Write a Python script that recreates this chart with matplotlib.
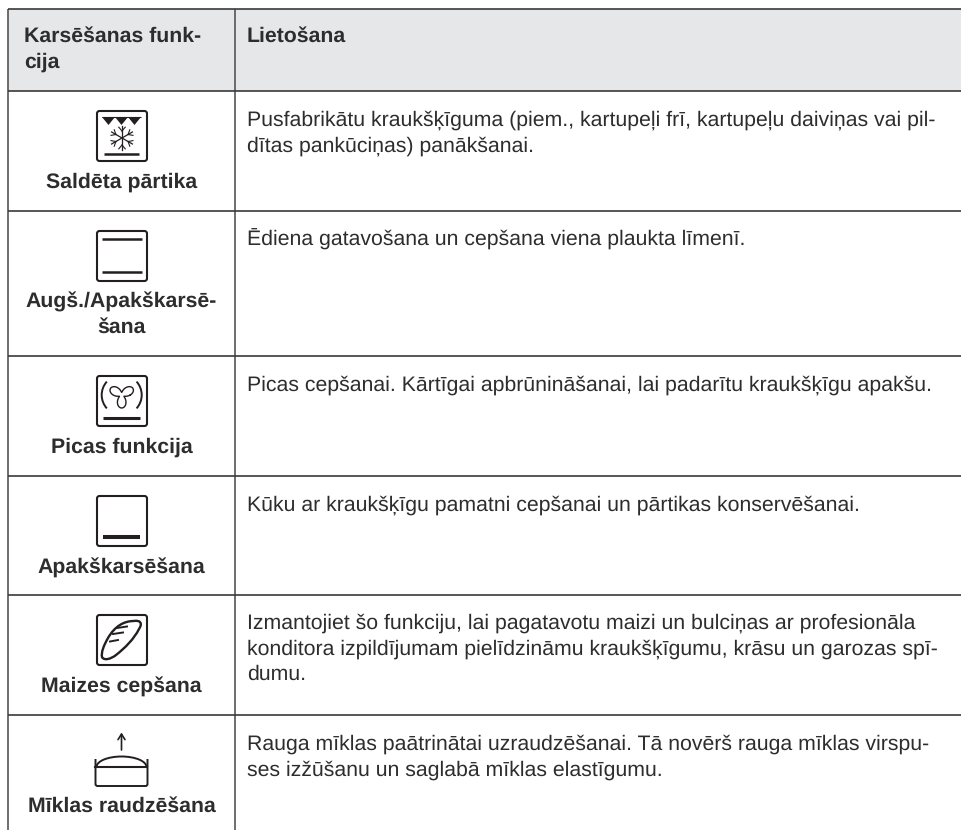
import matplotlib
matplotlib.use("Agg")
import matplotlib.pyplot as plt
from matplotlib.patches import FancyBboxPatch, Rectangle, Polygon, Arc, PathPatch
from matplotlib.path import Path
import numpy as np

plt.rcParams['font.family'] = ['Liberation Sans', 'DejaVu Sans']
plt.rcParams['text.hinting'] = 'no_hinting'
plt.rcParams['text.hinting_factor'] = 8

header = [["Karsēšanas funk-", "cija"], ["Lietošana"]]
functions = [
    ["Saldēta pārtika"],
    ["Augš./Apakškarsē-", "šana"],
    ["Picas funkcija"],
    ["Apakškarsēšana"],
    ["Maizes cepšana"],
    ["Mīklas raudzēšana"],
]
usage = [
    ["Pusfabrikātu kraukšķīguma (piem., kartupeļi frī, kartupeļu daiviņas vai pil-",
     "dītas pankūciņas) panākšanai."],
    ["Ēdiena gatavošana un cepšana viena plaukta līmenī."],
    ["Picas cepšanai. Kārtīgai apbrūnināšanai, lai padarītu kraukšķīgu apakšu."],
    ["Kūku ar kraukšķīgu pamatni cepšanai un pārtikas konservēšanai."],
    ["Izmantojiet šo funkciju, lai pagatavotu maizi un bulciņas ar profesionāla",
     "konditora izpildījumam pielīdzināmu kraukšķīgumu, krāsu un garozas spī-",
     "dumu."],
    ["Rauga mīklas paātrinātai uzraudzēšanai. Tā novērš rauga mīklas virspu-",
     "ses izžūšanu un saglabā mīklas elastīgumu."],
]
row_edges = [9, 91, 211, 356, 476, 595, 715, 830]
col_edges = [8, 235]

W, H = 962, 830
fig = plt.figure(figsize=(W / 100, H / 100), dpi=100)
ax = fig.add_axes([0, 0, 1, 1])
ax.set_xlim(0, W)
ax.set_ylim(H, 0)
ax.axis("off")

INK = "#231f20"
TXT = "#2d2d2d"
FS = 15.35
FS_B = 15.35
LH = 25.4

ax.add_patch(Rectangle((col_edges[0], row_edges[0]), W - col_edges[0],
                       row_edges[1] - row_edges[0], fc="#e6e7e8", ec="none"))
for x in col_edges:
    ax.plot([x, x], [row_edges[0], row_edges[-1]], color="#555555", lw=1.2, solid_capstyle="butt")
for y in row_edges[:-1]:
    ax.plot([col_edges[0], W], [y, y], color="#3a3a3a", lw=1.2, solid_capstyle="butt")

for i, line in enumerate(header[0]):
    ax.text(24, 42 + i * 26, line, fontsize=FS_B, fontweight="bold", color=TXT, va="baseline")
ax.text(247, 42, header[1][0], fontsize=FS_B, fontweight="bold", color=TXT, va="baseline")

ICON_X = 96


def box(x0, y0):
    ax.add_patch(FancyBboxPatch((x0 + 1, y0 + 1), 50, 50, boxstyle="round,pad=0,rounding_size=2.5",
                                fc="none", ec=INK, lw=1.5))


def hline(x0, y0, x1, x2, y, lw=1.8):
    ax.plot([x0 + x1, x0 + x2], [y0 + y, y0 + y], color=INK, lw=lw, solid_capstyle="butt")


def icon_frozen(y0):
    x0 = ICON_X
    box(x0, y0)
    hline(x0, y0, 6, 45, 7.5, lw=0.8)
    for k in range(3):
        ax.add_patch(Polygon([[x0 + 6 + k * 13, y0 + 7], [x0 + 19 + k * 13, y0 + 7],
                              [x0 + 12.5 + k * 13, y0 + 15]], fc=INK, ec="none"))
    hline(x0, y0, 8, 43, 44)
    cx, cy = x0 + 26, y0 + 28
    for a in np.deg2rad([90, 30, -30]):
        dx, dy = 12 * np.cos(a), 12 * np.sin(a)
        ax.plot([cx - dx, cx + dx], [cy - dy, cy + dy], color=INK, lw=0.9)
    for a in np.deg2rad([90, 30, -30, 150, 210, 270]):
        bx, by = cx + 7 * np.cos(a), cy + 7 * np.sin(a)
        for d in (-40, 40):
            t = a + np.deg2rad(d)
            ax.plot([bx, bx + 5 * np.cos(t)], [by, by + 5 * np.sin(t)], color=INK, lw=0.8)


def icon_top_bottom(y0):
    x0 = ICON_X
    box(x0, y0)
    hline(x0, y0, 6, 46, 9)
    hline(x0, y0, 6, 46, 42)


def icon_pizza(y0):
    x0 = ICON_X
    box(x0, y0)
    hline(x0, y0, 7, 44, 43, lw=2.2)
    cx, cy = x0 + 25.7, y0 + 20
    ax.add_patch(Arc((cx, cy), 40, 40, theta1=138, theta2=222, color=INK, lw=1.4))
    ax.add_patch(Arc((cx, cy), 40, 40, theta1=-42, theta2=42, color=INK, lw=1.4))
    th = np.linspace(0, 2 * np.pi, 361)
    r = 2.6 + 10.4 * np.abs(np.cos(1.5 * (th - np.pi / 2))) ** 1.6
    ax.plot(cx + r * np.cos(th), cy + r * np.sin(th), color=INK, lw=1.0)


def icon_bottom(y0):
    x0 = ICON_X
    box(x0, y0)
    hline(x0, y0, 7, 44, 42, lw=2.9)


def icon_bread(y0):
    x0 = ICON_X
    box(x0, y0)
    verts = [(38, 7), (28, 7), (19, 12), (12, 24),
             (8, 31), (5, 38), (6, 43),
             (8, 47), (15, 45), (20, 41),
             (29, 34), (38, 25), (43, 15),
             (47, 9), (44, 6), (38, 7)]
    codes = [Path.MOVETO] + [Path.CURVE4] * 15
    ax.add_patch(PathPatch(Path([(x0 + a, y0 + b) for a, b in verts], codes), fc="none", ec=INK, lw=1.7))
    for xa, xb, ya, yb in ((21, 31, 14, 12.5), (17, 27, 20, 18.5), (14, 22, 27.5, 26)):
        ax.plot([x0 + xa, x0 + xb], [y0 + ya, y0 + yb], color=INK, lw=1.4)


def icon_proof(y0):
    x0 = ICON_X - 0.5
    ax.add_patch(PathPatch(Path([(x0, y0), (x0, y0 + 25), (x0, y0 + 27), (x0 + 2, y0 + 27),
                                 (x0 + 50, y0 + 27), (x0 + 52, y0 + 27), (x0 + 52, y0 + 25), (x0 + 52, y0)],
                                [Path.MOVETO, Path.LINETO, Path.CURVE3, Path.CURVE3,
                                 Path.LINETO, Path.CURVE3, Path.CURVE3, Path.LINETO]),
                           fc="none", ec=INK, lw=1.4))
    ax.plot([x0, x0 + 52], [y0 + 8, y0 + 8], color=INK, lw=1.5)
    ax.add_patch(Arc((x0 + 26, y0 + 8), 50, 21, theta1=180, theta2=360, color=INK, lw=1.4))
    ax.annotate("", xy=(x0 + 26, y0 - 26.5), xytext=(x0 + 26, y0 - 9),
                arrowprops=dict(arrowstyle="->,head_width=0.25,head_length=0.4", color=INK, lw=1.2,
                                shrinkA=0, shrinkB=0))


icons = [icon_frozen, icon_top_bottom, icon_pizza, icon_bottom, icon_bread, icon_proof]
icon_tops = [110, 230, 375, 495, 614, 759]
label_base = [188, 308, 453, 574, 693, 812]
body_base = [126, 246, 391, 511, 629, 750]

for i in range(6):
    icons[i](icon_tops[i])
    for j, line in enumerate(functions[i]):
        ax.text(121.5, label_base[i] + j * 25, line, fontsize=FS_B, fontweight="bold", color=TXT,
                ha="center", va="baseline")
    for j, line in enumerate(usage[i]):
        ax.text(247, body_base[i] + j * LH, line, fontsize=FS, color=TXT, va="baseline")

fig.savefig("out.png", dpi=100)
